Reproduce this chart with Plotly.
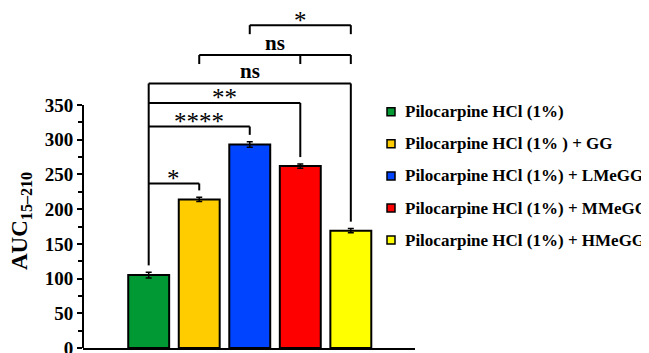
import plotly.graph_objects as go

# ---------------- data ----------------
categories = [
    "Pilocarpine HCl (1%)",
    "Pilocarpine HCl (1% ) + GG",
    "Pilocarpine HCl (1%) + LMeGG",
    "Pilocarpine HCl (1%) + MMeGG",
    "Pilocarpine HCl (1%) + HMeGG",
]
auc_mean = [105, 214, 293, 262, 169]
auc_err = [4, 3, 4, 3, 3]
bar_colors = ["#009933", "#FFCC00", "#0044FF", "#FF0000", "#FFFF00"]
y_tick_vals = [0, 50, 100, 150, 200, 250, 300, 350]
y_minor_vals = [25, 75, 125, 175, 225, 275, 325]

# comparisons against the first group: (i, j, label, bracket level)
ref_comparisons = [(0, 1, "*", 237), (0, 2, "****", 319), (0, 3, "**", 353), (0, 4, "ns", 381)]
# upper comparisons: (i, j, middle tick, label, bracket level)
top_comparisons = [(1, 4, 3, "ns", 422), (2, 4, None, "*", 465)]

# ---------------- layout constants ----------------
OFF = 8                      # page body margin
W, H = 649 - OFF, 353 - OFF
L, T = 83 - OFF, 10 - OFF
R = W - (415 - OFF)
B = H - (348 - OFF)
PW, PH = W - L - R, H - T - B
FONT = "Liberation Serif"
GAP = 10     # gap between bar top (incl. error) and bracket drop
TICK = 13    # bracket end tick length (data units)

x_idx = list(range(len(categories)))

fig = go.Figure()
fig.add_trace(go.Bar(
    x=x_idx, y=auc_mean, width=0.81,
    marker=dict(color=bar_colors, line=dict(color="black", width=2)),
    error_y=dict(type="data", array=auc_err, visible=True,
                 color="black", thickness=1.5, width=3),
    showlegend=False,
))

shapes = []
annotations = []
line_style = dict(color="black", width=2)

def top_of(k):
    return auc_mean[k] + auc_err[k] + GAP

def label_ann(x, y, lab):
    is_star = "*" in lab
    return dict(
        x=x, y=y, xref="x", yref="y", text=lab if is_star else f"<b>{lab}</b>",
        showarrow=False, yanchor="middle", yshift=5 if is_star else 12,
        font=dict(family=FONT, size=25 if is_star else 21, color="black"))

# brackets against reference group
max_level = max(c[3] for c in ref_comparisons)
shapes.append(dict(type="line", xref="x", yref="y", x0=0, x1=0,
                   y0=top_of(0), y1=max_level, line=line_style))
for i, j, lab, lev in ref_comparisons:
    shapes.append(dict(type="line", xref="x", yref="y", x0=i, x1=j, y0=lev, y1=lev, line=line_style))
    shapes.append(dict(type="line", xref="x", yref="y", x0=j, x1=j, y0=lev, y1=top_of(j), line=line_style))
    annotations.append(label_ann((i + j) / 2, lev, lab))

for i, j, mid, lab, lev in top_comparisons:
    shapes.append(dict(type="line", xref="x", yref="y", x0=i, x1=j, y0=lev, y1=lev, line=line_style))
    for k in [i, j] + ([mid] if mid is not None else []):
        shapes.append(dict(type="line", xref="x", yref="y", x0=k, x1=k, y0=lev, y1=lev - TICK, line=line_style))
    annotations.append(label_ann((i + j) / 2, lev, lab))

# y axis line only up to the last tick
shapes.append(dict(type="line", xref="paper", yref="y", x0=0, x1=0,
                   y0=y_tick_vals[0], y1=y_tick_vals[-1], line=line_style))

# helpers: target-window pixel -> paper coords
def px_x(px):
    return (px - OFF - L) / PW

def px_y(py):
    return (H - B - (py - OFF)) / PH

# y title
annotations.append(dict(
    x=px_x(21), y=px_y(221), xref="paper", yref="paper", showarrow=False,
    text="<b>AUC<sub>15–210</sub></b>", textangle=-90,
    xanchor="center", yanchor="middle",
    font=dict(family=FONT, size=23, color="black")))

# manual legend
leg_x, leg_y0, leg_dy, sq = 391, 111.7, 32.1, 8
for k, (name, col) in enumerate(zip(categories, bar_colors)):
    cy = leg_y0 + k * leg_dy
    shapes.append(dict(type="rect", xref="paper", yref="paper",
                       x0=px_x(leg_x - sq / 2), x1=px_x(leg_x + sq / 2),
                       y0=px_y(cy + sq / 2), y1=px_y(cy - sq / 2),
                       fillcolor=col, line=dict(color="black", width=1.5)))
    annotations.append(dict(
        x=px_x(403), y=px_y(cy), xref="paper", yref="paper", showarrow=False,
        text=f"<b>{name}</b>", xanchor="left", yanchor="middle",
        font=dict(family=FONT, size=17, color="black")))

fig.update_layout(
    width=W, height=H,
    margin=dict(l=L, r=R, t=T, b=B, pad=0, autoexpand=False),
    paper_bgcolor="white", plot_bgcolor="white",
    shapes=shapes, annotations=annotations,
    xaxis=dict(range=[-1.3, 5.27], showline=True, linewidth=2, linecolor="black",
               showticklabels=False, ticks="", showgrid=False, zeroline=False,
               fixedrange=True, automargin=False),
    yaxis=dict(range=[0, PH / (243 / 350)], showline=False, showgrid=False, zeroline=False,
               tickmode="array", tickvals=y_tick_vals, ticks="outside", ticklen=5,
               tickwidth=2, tickcolor="black", ticklabeloverflow="allow",
               minor=dict(tickmode="array", tickvals=y_minor_vals, ticks="outside",
                          ticklen=4, tickwidth=2, tickcolor="black"),
               tickfont=dict(family=FONT, size=19, color="black", weight="bold"),
               fixedrange=True, automargin=False),
    showlegend=False,
)

fig.write_html("out.html")
